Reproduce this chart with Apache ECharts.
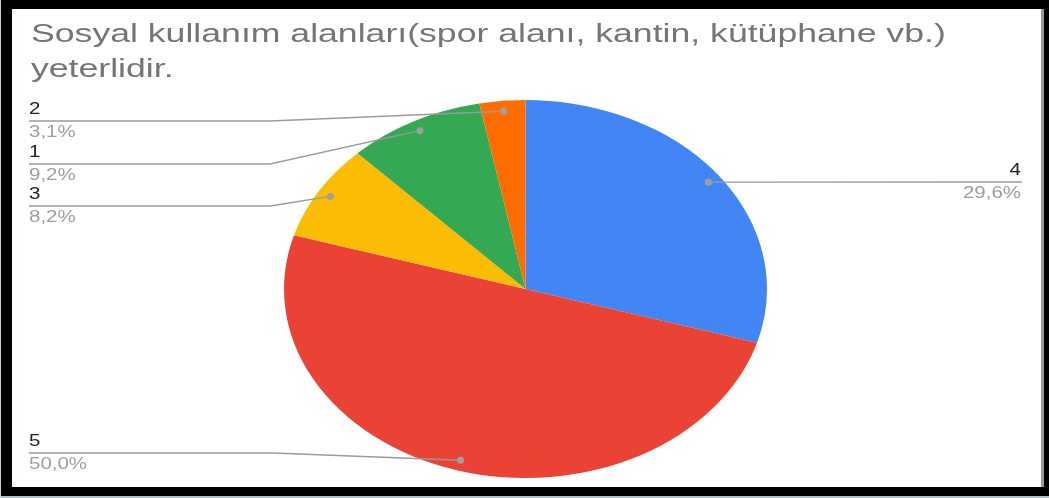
<!DOCTYPE html>
<html>
<head>
<meta charset="utf-8">
<script src="https://cdn.jsdelivr.net/npm/echarts@6/dist/echarts.min.js"></script>
<style>
html,body{margin:0;padding:0;background:#000;}
#chart{width:1049px;height:498px;}
</style>
</head>
<body>
<div id="chart"></div>
<script>
// ---- data ----
var titleLines = ['Sosyal kullanım alanları(spor alanı, kantin, kütüphane vb.)', 'yeterlidir.'];
var categories = ['4', '5', '3', '1', '2'];
var values = [29, 49, 8, 9, 3];
var colors = ['#4285F4', '#EA4335', '#FBBC04', '#34A853', '#FF6D01'];

// ---- layout (label positions) ----
var labelLayout = [
  { side: 'right', lineY: 182, elbowX: null },
  { side: 'left', lineY: 453, elbowX: 273 },
  { side: 'left', lineY: 206, elbowX: 270 },
  { side: 'left', lineY: 164, elbowX: 270 },
  { side: 'left', lineY: 121, elbowX: 270 }
];
var CX = 525.5, CY = 289, R = 241.5, SY = 189 / 241.5;
var LEFT_X = 29, RIGHT_X = 1022;
var TEXT_SX = 1.28;

var total = values.reduce(function (a, b) { return a + b; }, 0);

var chart = echarts.init(document.getElementById('chart'), null, { renderer: 'canvas' });

function renderItem(params, api) {
  var i = params.dataIndex;
  var v = api.value(0);
  var before = 0;
  for (var k = 0; k < i; k++) before += values[k];
  var start = -Math.PI / 2 + before / total * Math.PI * 2;
  var end = start + v / total * Math.PI * 2;
  var mid = (start + end) / 2;
  var dx = CX + 0.945 * R * Math.cos(mid);
  var dy = CY + 0.945 * R * Math.sin(mid) * SY;
  var lay = labelLayout[i];
  var pts;
  if (lay.side === 'left') {
    pts = [[dx, dy], [lay.elbowX, lay.lineY], [LEFT_X, lay.lineY]];
  } else {
    pts = [[dx, dy], [RIGHT_X, lay.lineY]];
  }
  var anchorX = lay.side === 'left' ? LEFT_X : RIGHT_X - 1;
  var align = lay.side === 'left' ? 'left' : 'right';
  var pct = (v / total * 100).toFixed(1).replace('.', ',') + '%';
  return {
    type: 'group',
    children: [
      {
        type: 'sector',
        x: CX, y: CY, scaleY: SY,
        shape: { cx: 0, cy: 0, r0: 0, r: R, startAngle: start, endAngle: end, clockwise: true },
        style: { fill: colors[i] },
        z2: 1
      },
      {
        type: 'polyline',
        shape: { points: pts },
        style: { stroke: '#9a9a9a', lineWidth: 1.4, fill: null },
        z2: 5
      },
      {
        type: 'circle',
        shape: { cx: dx, cy: dy, r: 3.5 },
        style: { fill: '#a0a0a0' },
        z2: 6
      },
      {
        type: 'text',
        x: anchorX, y: lay.lineY - 11.5, scaleX: TEXT_SX,
        style: { x: 0, y: 0, text: categories[i], fill: '#222222', font: '16px "Liberation Sans", Arial, sans-serif', align: align, verticalAlign: 'middle' },
        z2: 7
      },
      {
        type: 'text',
        x: anchorX, y: lay.lineY + 11.5, scaleX: TEXT_SX,
        style: { x: 0, y: 0, text: pct, fill: '#9e9e9e', font: '16px "Liberation Sans", Arial, sans-serif', align: align, verticalAlign: 'middle' },
        z2: 7
      }
    ]
  };
}

var option = {
  backgroundColor: '#000000',
  animation: false,
  graphic: [
    { type: 'rect', z: -10, shape: { x: 12, y: 9, width: 1029, height: 478 }, style: { fill: '#ffffff' } },
    { type: 'rect', z: -10, shape: { x: 1041, y: 9, width: 3, height: 478 }, style: { fill: '#9a9a9a' } },
    { type: 'rect', z: -10, shape: { x: 0, y: 496, width: 1049, height: 2 }, style: { fill: '#aebfc8' } },
    { type: 'rect', z: -10, shape: { x: 0, y: 0, width: 1, height: 498 }, style: { fill: '#b8d8de' } },
    {
      type: 'text', z: 10, x: 31, y: 35, scaleX: 1.37,
      style: { text: titleLines[0], fill: '#757575', font: '26px "Liberation Sans", Arial, sans-serif', verticalAlign: 'middle' }
    },
    {
      type: 'text', z: 10, x: 31, y: 69.5, scaleX: 1.37,
      style: { text: titleLines[1], fill: '#757575', font: '26px "Liberation Sans", Arial, sans-serif', verticalAlign: 'middle' }
    }
  ],
  series: [{
    type: 'custom',
    coordinateSystem: 'none',
    renderItem: renderItem,
    data: values.map(function (v, i) { return { name: categories[i], value: [v] }; }),
    z: 5
  }]
};
chart.setOption(option);
</script>
</body>
</html>
